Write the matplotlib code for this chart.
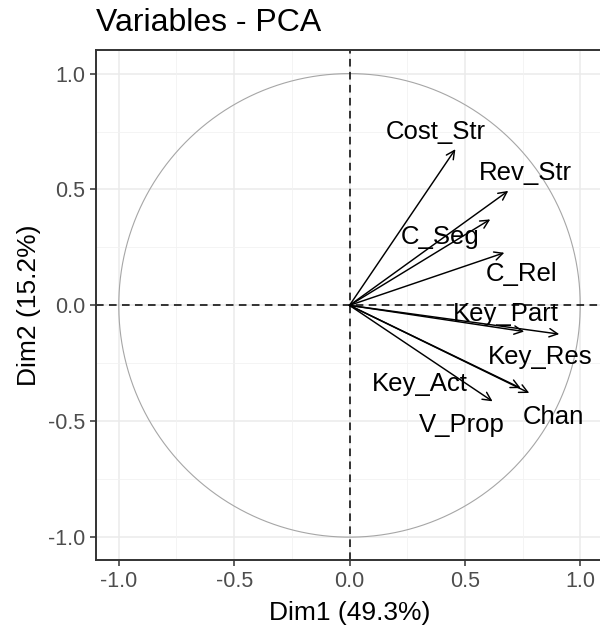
import matplotlib.pyplot as plt
import numpy as np

plt.rcParams['font.family'] = ['Liberation Sans', 'DejaVu Sans']

# variable coordinates on Dim1 / Dim2
variables = ['Cost_Str', 'Rev_Str', 'C_Seg', 'C_Rel', 'Key_Part',
             'Key_Res', 'Key_Act', 'Chan', 'V_Prop']
dim1 = [0.459, 0.688, 0.610, 0.671, 0.757, 0.909, 0.742, 0.779, 0.620]
dim2 = [0.674, 0.494, 0.371, 0.227, -0.113, -0.124, -0.357, -0.378, -0.414]

# repelled label positions
label_x = [0.373, 0.763, 0.394, 0.746, 0.676, 0.828, 0.303, 0.884, 0.485]
label_y = [0.747, 0.571, 0.295, 0.136, -0.037, -0.222, -0.338, -0.480, -0.515]

ticks = [-1.0, -0.5, 0.0, 0.5, 1.0]
minor_ticks = [-0.75, -0.25, 0.25, 0.75]

fig = plt.figure(figsize=(6, 6.35), dpi=100)
ax = fig.add_axes([0.1595, 0.1176, 0.846, 0.803])
ax.set_xlim(-1.1, 1.1)
ax.set_ylim(-1.1, 1.1)

# grid
for t in ticks:
    ax.axvline(t, color='#ebebeb', lw=1.1, zorder=0)
    ax.axhline(t, color='#ebebeb', lw=1.1, zorder=0)
for t in minor_ticks:
    ax.axvline(t, color='#f2f2f2', lw=0.6, zorder=0)
    ax.axhline(t, color='#f2f2f2', lw=0.6, zorder=0)

# correlation circle
theta = np.linspace(0, 2 * np.pi, 400)
ax.plot(np.cos(theta), np.sin(theta), color='#a6a6a6', lw=0.8, zorder=1)

ax.axhline(0, color='black', lw=1.1, ls=(0, (5, 3.5)), zorder=2)
ax.axvline(0, color='black', lw=1.1, ls=(0, (5, 3.5)), zorder=2)

for name, x, y, lx, ly in zip(variables, dim1, dim2, label_x, label_y):
    ax.annotate('', xy=(x, y), xytext=(0, 0),
                arrowprops=dict(arrowstyle='->,head_length=0.6,head_width=0.3',
                                color='black', lw=1.05, shrinkA=0, shrinkB=0),
                zorder=3)
    ax.text(lx, ly, name, fontsize=18.5, ha='center', va='center',
            color='black', zorder=4)

ax.set_xticks(ticks)
ax.set_yticks(ticks)
ax.set_xticklabels(['-1.0', '-0.5', '0.0', '0.5', '1.0'])
ax.set_yticklabels(['-1.0', '-0.5', '0.0', '0.5', '1.0'])
ax.tick_params(labelsize=15.5, labelcolor='#4d4d4d', color='#333333',
               length=4, width=1.1, direction='out')

for s in ax.spines.values():
    s.set_color('#333333')
    s.set_linewidth(1.4)

ax.set_xlabel('Dim1 (49.3%)', fontsize=19, labelpad=7)
ax.set_ylabel('Dim2 (15.2%)', fontsize=19, labelpad=5)
fig.text(0.16, 0.963, 'Variables - PCA', fontsize=23, ha='left', va='center')

fig.savefig('out.png', dpi=100)
